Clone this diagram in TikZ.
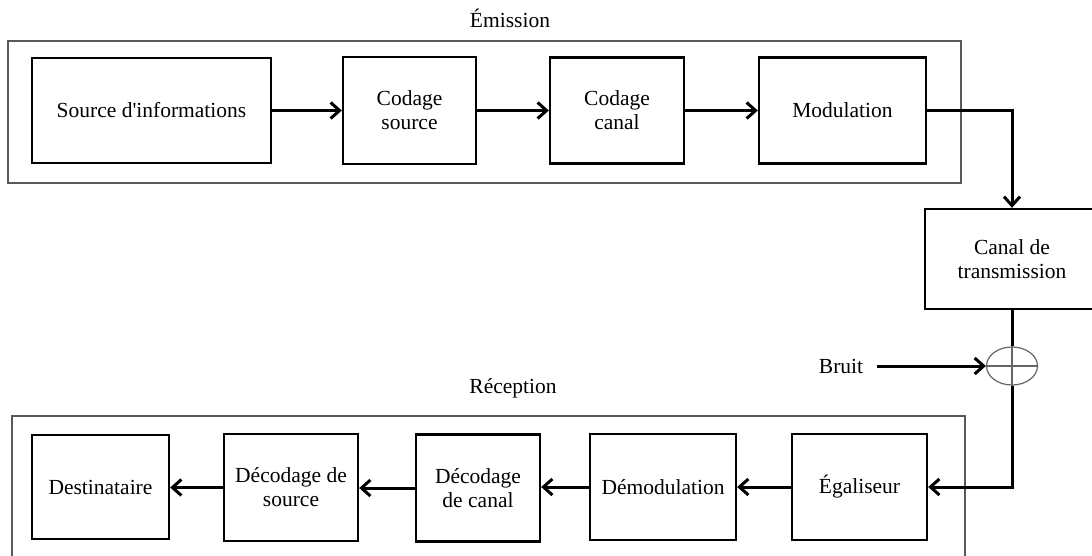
\documentclass[tikz,border=0pt]{standalone}
\usepackage{fontspec}
\setmainfont{Liberation Serif}
\usetikzlibrary{arrows.meta,shapes.geometric}
\tikzset{
  blk/.style={draw=black, line width=2.3pt, inner sep=0pt, align=center,
    font=\fontsize{21.5}{24}\selectfont},
  lbl/.style={inner sep=0pt, font=\fontsize{21.5}{24}\selectfont},
  frame/.style={draw=black!65, line width=1.2pt},
  arr/.style={line width=3pt, -{Straight Barb[length=9pt,width=16pt,line width=3pt]}},
  conn/.style={line width=3pt},
  thin/.style={draw=black!60, line width=1.2pt}
}
\begin{document}
\begin{tikzpicture}[x=1pt,y=-1pt]
\clip (0,0) rectangle (1092,556);
\fill[white] (0,0) rectangle (1092,556);
% frames
\draw[frame] (8,41) rectangle (961,183);
\draw[frame] (12,580) -- (12,416) -- (965,416) -- (965,580);
% labels
\node[lbl] (em) at (510,18) {Émission};
\node[lbl] (rec) at (513,388) {Réception};
\node[lbl] (bruit) at (841,366) {Bruit};
% emission blocks
\node[blk, minimum width=239pt, minimum height=105pt] (src) at (151.5,110.5) {Source d\textquotesingle informations};
\node[blk, minimum width=133pt, minimum height=107pt] (cs) at (409.5,110.5) {Codage\\source};
\node[blk, minimum width=134pt, minimum height=106pt] (cc) at (617,110.5) {Codage\\canal};
\node[blk, minimum width=167pt, minimum height=106pt] (mod) at (842.5,110.5) {Modulation};
% channel
\node[blk, minimum width=174pt, minimum height=100pt] (canal) at (1012,259) {Canal de\\transmission};
\node[draw=black!60, line width=1.2pt, ellipse, minimum width=51pt, minimum height=38pt, inner sep=0pt] (sum) at (1012,366) {};
% reception blocks
\node[blk, minimum width=137pt, minimum height=104pt] (dest) at (100.5,487) {Destinataire};
\node[blk, minimum width=134pt, minimum height=107pt] (ds) at (291,487.5) {Décodage de\\source};
\node[blk, minimum width=124pt, minimum height=107pt] (dc) at (478,488) {Décodage\\de canal};
\node[blk, minimum width=146pt, minimum height=106pt] (dem) at (663,487) {Démodulation};
\node[blk, minimum width=135pt, minimum height=106pt] (ega) at (859.5,487) {Égaliseur};
% cross in sum
\draw[thin] (sum.north) -- (sum.south);
\draw[thin] (sum.west) -- (sum.east);
% connectors
\draw[arr] (src.east) -- (cs.west);
\draw[arr] (cs.east) -- (cc.west);
\draw[arr] (cc.east) -- (mod.west);
\draw[arr] (mod.east) -| (canal.north);
\draw[conn] (canal.south) -- (sum.north);
\draw[arr] ([xshift=14pt]bruit.east) -- (sum.west);
\draw[arr] (sum.south) |- (ega.east);
\draw[arr] (ega.west) -- (dem.east);
\draw[arr] (dem.west) -- (dem.west -| dc.east);
\draw[arr] (dc.west) -- (dc.west -| ds.east);
\draw[arr] (ds.west) -- (ds.west -| dest.east);
\end{tikzpicture}
\end{document}
